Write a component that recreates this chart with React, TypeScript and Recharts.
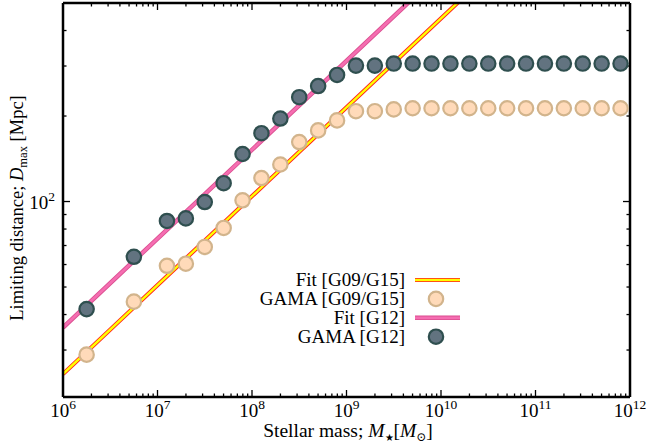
import { ComposedChart, XAxis, YAxis, Line, Scatter, Customized } from "recharts";

// log10(M*/Msun) at the centre of each mass bin
const logMass = [
  6.25, 6.75, 7.1, 7.3, 7.5, 7.7, 7.9, 8.1, 8.3, 8.5, 8.7, 8.9, 9.1, 9.3, 9.5,
  9.7, 9.9, 10.1, 10.3, 10.5, 10.7, 10.9, 11.1, 11.3, 11.5, 11.7, 11.9,
];

// limiting distance D_max [Mpc] per bin
const dmaxG12 = [
  41.8, 63.9, 85.4, 87.2, 99.6, 116, 147, 174, 196, 233, 255, 279, 301, 301,
  306, 306, 306, 306, 306, 306, 306, 306, 306, 306, 306, 306, 306,
];
const dmaxG09G15 = [
  28.9, 44.4, 59.4, 60.4, 69.2, 80.7, 101, 121, 135, 162, 178, 193, 208, 208,
  211, 213, 213, 213, 213, 213, 213, 213, 213, 213, 213, 213, 213,
];

// power-law fits, given at the ends of the mass range
const fitMass = [1e6, 1e12];
const fitG12 = [36.0, 2718];
const fitG09G15 = [24.7, 1865];

const xMajor = [1e6, 1e7, 1e8, 1e9, 1e10, 1e11, 1e12];
const xMinor = [6, 7, 8, 9, 10, 11].flatMap((e) =>
  [2, 3, 4, 5, 6, 7, 8, 9].map((k) => k * 10 ** e)
);
const yMajor = [100];
const yMinor = [30, 40, 50, 60, 70, 80, 90, 200, 300, 400];

const xDomain = [1e6, 1e12];
const yDomain = [20.5, 500];

const FONT = "'Liberation Serif', 'DejaVu Serif', serif";

const ptsG12 = logMass.map((l, i) => ({ m: 10 ** l, d: dmaxG12[i] }));
const ptsG09 = logMass.map((l, i) => ({ m: 10 ** l, d: dmaxG09G15[i] }));
const lineG12 = fitMass.map((m, i) => ({ m, d: fitG12[i] }));
const lineG09 = fitMass.map((m, i) => ({ m, d: fitG09G15[i] }));

const DARK = { fill: "#627380", stroke: "#2f4f4f" };
const PEACH = { fill: "#ffdab9", stroke: "#d2b48c" };

const Dot = ({ cx, cy, c }: any) =>
  cx == null ? null : (
    <circle cx={cx} cy={cy} r={7.2} fill={c.fill} stroke={c.stroke} strokeWidth={2.2} />
  );

const Nothing = () => <g />;

const XTick = ({ x, y, payload }: any) => {
  const e = Math.round(Math.log10(payload.value));
  return (
    <text x={x} y={y + 12} textAnchor="middle" fontFamily={FONT} fontSize={19} fill="#000">
      <tspan>10</tspan>
      <tspan dy={-8} fontSize={13.5}>{e}</tspan>
    </text>
  );
};

const YTick = ({ x, y, payload }: any) => {
  const e = Math.round(Math.log10(payload.value));
  return (
    <text x={x} y={y + 7.5} textAnchor="end" fontFamily={FONT} fontSize={19} fill="#000">
      <tspan>10</tspan>
      <tspan dy={-8} fontSize={13.5}>{e}</tspan>
    </text>
  );
};

// axis titles and the key, drawn straight into the svg
const Annotations = () => {
  const rows = [
    { label: "Fit [G09/G15]", kind: "fit09" },
    { label: "GAMA [G09/G15]", kind: "pt09" },
    { label: "Fit [G12]", kind: "fit12" },
    { label: "GAMA [G12]", kind: "pt12" },
  ];
  return (
    <g fontFamily={FONT} fill="#000">
      <text x={348} y={437} textAnchor="middle" fontSize={19.5}>
        Stellar mass;{" "}
        <tspan fontStyle="italic">M</tspan>
        <tspan fontSize={10} dy={4}>★</tspan>
        <tspan dy={-4}>[</tspan>
        <tspan fontStyle="italic">M</tspan>
        <tspan fontSize={12} dy={4}>⊙</tspan>
        <tspan dy={-4}>]</tspan>
      </text>
      <text transform="translate(23,208) rotate(-90)" textAnchor="middle" fontSize={18.5}>
        Limiting distance;{" "}
        <tspan fontStyle="italic">D</tspan>
        <tspan fontSize={12.5} dy={4}>max</tspan>
        <tspan dy={-4}> [Mpc]</tspan>
      </text>
      {rows.map((r, i) => {
        const cy = 280 + i * 18.9;
        return (
          <g key={r.label}>
            <text x={405} y={cy + 6} textAnchor="end" fontSize={19}>
              {r.label}
            </text>
            {r.kind === "fit09" && (
              <>
                <line x1={415} x2={460} y1={cy} y2={cy} stroke="#ff1a1a" strokeWidth={4.2} />
                <line x1={415} x2={460} y1={cy} y2={cy} stroke="#ffff00" strokeWidth={2.4} />
              </>
            )}
            {r.kind === "fit12" && (
              <>
                <line x1={415} x2={460} y1={cy} y2={cy} stroke="#d94d8e" strokeWidth={4.5} />
                <line x1={415} x2={460} y1={cy} y2={cy} stroke="#f56db1" strokeWidth={2.8} />
              </>
            )}
            {r.kind === "pt09" && <Dot cx={436} cy={cy} c={PEACH} />}
            {r.kind === "pt12" && <Dot cx={436} cy={cy} c={DARK} />}
          </g>
        );
      })}
    </g>
  );
};

const frame = { stroke: "#000", strokeWidth: 2.5 };
const tickStroke = { stroke: "#000", strokeWidth: 1.3 };

// settings shared by the tick-only axes (near-zero size keeps them on the frame)
const xTickAxis = { type: "number" as const, scale: "log" as const, domain: xDomain, allowDataOverflow: true, interval: 0, tick: Nothing, tickLine: tickStroke, mirror: true, dataKey: "m", height: 0.01 };
const yTickAxis = { type: "number" as const, scale: "log" as const, domain: yDomain, allowDataOverflow: true, interval: 0, tick: Nothing, tickLine: tickStroke, mirror: true, dataKey: "d", width: 0.01 };

export default function App() {
  return (
    <div style={{ position: "absolute", left: 0, top: 0, background: "#fff" }}>
      <ComposedChart
        width={647}
        height={448}
        margin={{ top: 3, right: 17, bottom: 0, left: 0 }}
      >
        {/* labelled axes */}
        <XAxis
          xAxisId="x"
          dataKey="m"
          type="number"
          scale="log"
          domain={xDomain}
          allowDataOverflow
          ticks={xMajor}
          interval={0}
          tickLine={false}
          axisLine={frame}
          height={51}
          tick={(p: any) => <XTick {...p} />}
        />
        <YAxis
          yAxisId="y"
          dataKey="d"
          type="number"
          scale="log"
          domain={yDomain}
          allowDataOverflow
          ticks={yMajor}
          interval={0}
          tickLine={false}
          axisLine={frame}
          width={63}
          tick={(p: any) => <YTick {...p} />}
        />

        {/* inward tick marks on all four sides */}
        <XAxis xAxisId="bMaj" orientation="bottom" {...xTickAxis} ticks={xMajor} tickSize={7} axisLine={false} />
        <XAxis xAxisId="bMin" orientation="bottom" {...xTickAxis} ticks={xMinor} tickSize={3.5} axisLine={false} />
        <XAxis xAxisId="tMaj" orientation="top" {...xTickAxis} ticks={xMajor} tickSize={7} axisLine={frame} />
        <XAxis xAxisId="tMin" orientation="top" {...xTickAxis} ticks={xMinor} tickSize={3.5} axisLine={false} />
        <YAxis yAxisId="lMaj" orientation="left" {...yTickAxis} ticks={yMajor} tickSize={7} axisLine={false} />
        <YAxis yAxisId="lMin" orientation="left" {...yTickAxis} ticks={yMinor} tickSize={3.5} axisLine={false} />
        <YAxis yAxisId="rMaj" orientation="right" {...yTickAxis} ticks={yMajor} tickSize={7} axisLine={frame} />
        <YAxis yAxisId="rMin" orientation="right" {...yTickAxis} ticks={yMinor} tickSize={3.5} axisLine={false} />

        {/* hidden series so the tick-only axes get a scale */}
        <Scatter xAxisId="bMaj" yAxisId="lMaj" data={ptsG12} dataKey="d" isAnimationActive={false} shape={Nothing} />
        <Scatter xAxisId="bMin" yAxisId="lMin" data={ptsG12} dataKey="d" isAnimationActive={false} shape={Nothing} />
        <Scatter xAxisId="tMaj" yAxisId="rMaj" data={ptsG12} dataKey="d" isAnimationActive={false} shape={Nothing} />
        <Scatter xAxisId="tMin" yAxisId="rMin" data={ptsG12} dataKey="d" isAnimationActive={false} shape={Nothing} />

        {/* G09/G15: fit then points */}
        <Line xAxisId="x" yAxisId="y" data={lineG09} dataKey="d" stroke="#ff1a1a" strokeWidth={4.2} dot={false} activeDot={false} isAnimationActive={false} />
        <Line xAxisId="x" yAxisId="y" data={lineG09} dataKey="d" stroke="#ffff00" strokeWidth={2.4} dot={false} activeDot={false} isAnimationActive={false} />
        <Scatter xAxisId="x" yAxisId="y" data={ptsG09} dataKey="d" isAnimationActive={false} shape={(p: any) => <Dot cx={p.cx} cy={p.cy} c={PEACH} />} />

        {/* G12: fit then points */}
        <Line xAxisId="x" yAxisId="y" data={lineG12} dataKey="d" stroke="#d94d8e" strokeWidth={4.5} dot={false} activeDot={false} isAnimationActive={false} />
        <Line xAxisId="x" yAxisId="y" data={lineG12} dataKey="d" stroke="#f56db1" strokeWidth={2.8} dot={false} activeDot={false} isAnimationActive={false} />
        <Scatter xAxisId="x" yAxisId="y" data={ptsG12} dataKey="d" isAnimationActive={false} shape={(p: any) => <Dot cx={p.cx} cy={p.cy} c={DARK} />} />

        <Customized component={Annotations} />
      </ComposedChart>
    </div>
  );
}
